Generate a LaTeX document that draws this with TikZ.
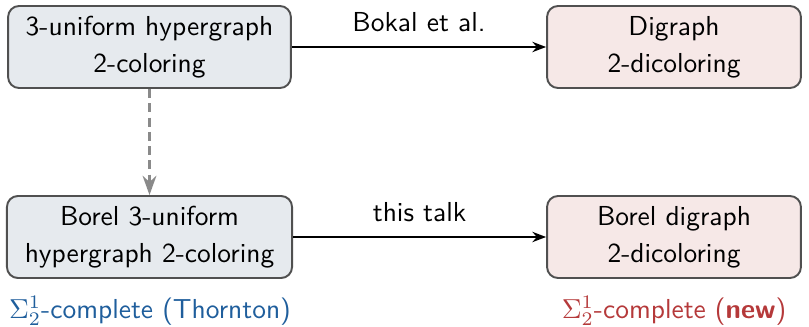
\documentclass[tikz,border=0pt]{standalone}
\usepackage{tikz}
\usetikzlibrary{arrows.meta,positioning}
\usepackage{amsmath}
\definecolor{boxLine}{HTML}{505050}
\definecolor{hgFill}{HTML}{E6EAEE}
\definecolor{dgFill}{HTML}{F6E8E7}
\definecolor{ctBlue}{HTML}{1F5E9C}
\definecolor{ctRed}{HTML}{B5393A}
\definecolor{dashGray}{HTML}{8A8A8A}

\begin{document}
\begin{tikzpicture}[x=0.0128cm,y=0.0128cm,font=\sffamily,
      s/.style={draw=boxLine,rounded corners=4pt,minimum height=1.05cm,
                align=center,line width=0.7pt}]
    \useasboundingbox (0,0) rectangle (809,326);
    \node[s,fill=hgFill,minimum width=3.62cm] (hg)  at (149.5,279) {3-uniform hypergraph\\[1.5pt]2-coloring};
    \node[s,fill=dgFill,minimum width=3.25cm] (dg)  at (674,279)   {Digraph\\[1.5pt]2-dicoloring};
    \node[s,fill=hgFill,minimum width=3.65cm] (bhg) at (149.5,89)  {Borel 3-uniform\\[1.5pt]hypergraph 2-coloring};
    \node[s,fill=dgFill,minimum width=3.25cm] (bdg) at (674,89)    {Borel digraph\\[1.5pt]2-dicoloring};
    \node[ctBlue] (lt) at (150,15) {$\Sigma^1_2$-complete (Thornton)};
    \node[ctRed]  (rt) at (674,15) {$\Sigma^1_2$-complete (\textbf{new})};

    \draw[-{Stealth[length=5pt]},line width=0.7pt] (hg) -- node[above=2pt] {Bokal et al.} (dg);
    \draw[-{Stealth[length=5pt]},line width=0.7pt] (bhg) -- node[above=2pt] {this talk} (bdg);
    \draw[-{Stealth[length=7pt,width=5pt]},dashGray,dash pattern=on 3.3pt off 1.9pt,line width=1pt] (hg) -- (bhg);
  \end{tikzpicture}
\end{document}
